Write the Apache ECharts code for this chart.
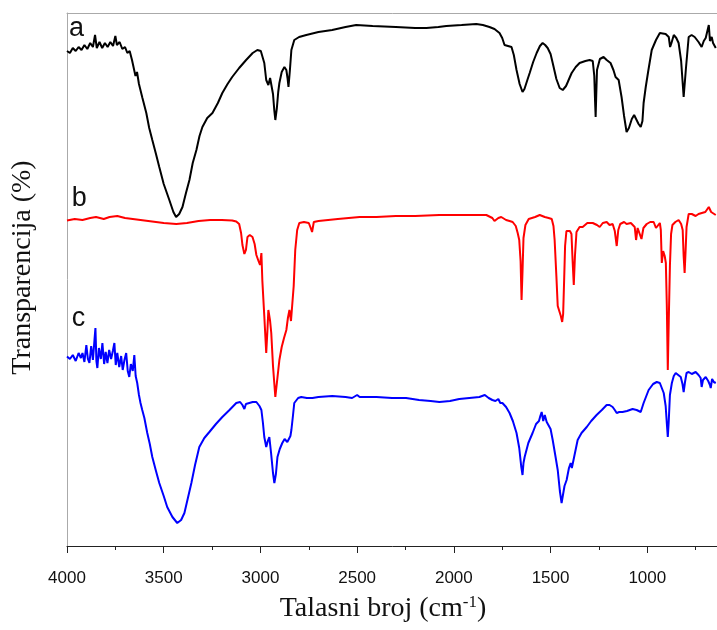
<!DOCTYPE html>
<html>
<head>
<meta charset="utf-8">
<script src="https://cdn.jsdelivr.net/npm/echarts@6/dist/echarts.min.js"></script>
<style>html,body{margin:0;padding:0;background:#fff;}#c{width:717px;height:630px;}</style>
</head>
<body>
<div id="c"></div>
<script>
// Series labels
const seriesNames = ['a', 'b', 'c'];
const seriesColors = ['#000000', '#ff0000', '#0000ff'];

// Spectrum a: [wavenumber (cm-1), transmittance (offset, arb.)]
const specA = [[4000,99.0],[3985,98.6],[3970,99.6],[3955,99.0],[3940,99.8],[3925,99.2],[3910,100.2],[3895,99.4],[3880,100.6],[3866,99.8],[3855,102.2],[3846,99.6],[3832,100.8],[3818,99.6],[3804,100.6],[3790,99.8],[3776,100.8],[3762,100.0],[3750,102.0],[3742,100.2],[3728,100.8],[3714,99.4],[3700,99.8],[3688,98.6],[3676,99.0],[3664,97.2],[3655,97.6],[3646,94.0],[3638,94.8],[3628,92.4],[3610,89.6],[3590,86.6],[3575,83.6],[3559,81.2],[3540,78.4],[3523,75.8],[3500,72.4],[3471,69.2],[3450,66.8],[3436,65.8],[3420,66.4],[3403,67.8],[3385,70.6],[3367,73.2],[3350,76.6],[3331,79.2],[3315,82.0],[3300,83.8],[3275,85.6],[3248,86.6],[3220,88.6],[3197,90.6],[3170,92.4],[3146,93.8],[3110,95.6],[3074,97.2],[3040,98.6],[3016,99.2],[2998,99.0],[2990,98.6],[2980,96.6],[2970,93.2],[2959,92.2],[2950,93.6],[2944,93.8],[2935,90.4],[2928,87.0],[2923,85.2],[2915,87.6],[2908,90.8],[2902,92.6],[2890,94.8],[2876,95.8],[2866,95.2],[2860,93.6],[2855,91.8],[2848,95.0],[2840,99.2],[2825,101.2],[2800,101.8],[2763,102.2],[2700,102.8],[2629,103.2],[2560,103.8],[2505,104.2],[2420,104.0],[2300,103.8],[2200,103.6],[2142,103.6],[2080,103.8],[2039,104.0],[1960,104.2],[1884,104.4],[1850,104.2],[1816,103.8],[1790,103.4],[1764,102.6],[1750,101.6],[1738,100.2],[1720,100.0],[1702,99.8],[1690,98.2],[1676,95.2],[1660,92.4],[1645,90.8],[1635,91.4],[1620,93.2],[1608,94.6],[1590,96.8],[1572,98.6],[1555,100.0],[1541,100.6],[1528,100.2],[1515,99.6],[1500,98.4],[1489,96.6],[1470,93.4],[1453,91.6],[1437,91.2],[1420,92.0],[1411,92.8],[1400,93.8],[1391,94.6],[1370,95.8],[1350,96.6],[1320,97.0],[1298,97.2],[1282,97.0],[1274,94.0],[1270,89.0],[1267,85.8],[1264,90.0],[1260,95.2],[1245,97.4],[1226,97.8],[1210,97.2],[1190,96.6],[1175,95.2],[1164,93.8],[1148,93.2],[1133,89.8],[1120,86.0],[1107,82.8],[1095,83.6],[1080,85.4],[1068,86.2],[1060,85.8],[1045,84.4],[1034,83.8],[1025,85.0],[1019,88.6],[1008,91.8],[995,95.0],[977,99.2],[955,101.2],[935,102.6],[925,102.8],[905,102.4],[889,101.8],[882,99.8],[875,100.6],[863,102.2],[850,101.6],[838,100.6],[825,97.0],[812,89.8],[800,95.6],[786,101.8],[771,102.2],[755,101.8],[735,100.8],[719,99.8],[708,101.0],[698,101.6],[688,102.0],[682,104.2],[676,101.0],[672,100.6],[667,101.8],[660,100.6],[646,99.6]];

// Spectrum b
const specB = [[4000,65.1],[3960,65.4],[3920,65.2],[3880,65.6],[3850,65.8],[3810,65.4],[3780,65.8],[3740,66.0],[3700,65.6],[3660,65.4],[3620,65.2],[3580,65.0],[3540,64.8],[3500,64.6],[3435,64.4],[3380,64.6],[3320,65.0],[3260,65.2],[3200,65.2],[3146,65.1],[3125,64.9],[3110,64.4],[3100,62.6],[3093,60.2],[3083,58.4],[3075,59.2],[3067,61.8],[3055,62.2],[3041,61.8],[3030,60.4],[3021,58.2],[3010,57.0],[3002,56.2],[2995,58.6],[2990,53.0],[2980,46.0],[2970,38.6],[2964,43.0],[2959,47.2],[2950,45.0],[2944,42.6],[2935,36.0],[2928,32.4],[2923,29.8],[2915,32.6],[2902,37.2],[2890,39.8],[2878,41.6],[2866,43.2],[2858,45.6],[2850,47.2],[2842,45.0],[2835,44.6],[2828,52.0],[2820,59.2],[2810,63.2],[2799,64.6],[2775,64.8],[2750,64.6],[2740,63.6],[2733,62.8],[2724,64.8],[2700,65.0],[2600,65.4],[2487,65.8],[2400,65.8],[2300,66.0],[2200,66.0],[2075,66.2],[1950,66.2],[1832,66.2],[1801,65.6],[1790,65.0],[1780,64.6],[1770,65.6],[1755,65.8],[1730,65.2],[1712,65.0],[1696,64.8],[1680,64.0],[1670,62.6],[1662,61.2],[1655,57.0],[1650,49.2],[1645,55.0],[1640,61.6],[1630,64.2],[1613,65.4],[1580,65.8],[1556,66.2],[1530,65.8],[1510,65.6],[1494,65.4],[1485,64.0],[1479,61.2],[1470,54.0],[1463,48.0],[1455,47.0],[1447,46.0],[1440,44.8],[1435,46.4],[1430,53.0],[1425,60.0],[1418,63.0],[1411,63.4],[1400,63.0],[1392,62.4],[1386,57.0],[1380,52.2],[1374,58.0],[1366,62.8],[1350,63.8],[1334,63.8],[1310,64.6],[1282,64.6],[1260,64.2],[1246,63.8],[1230,64.6],[1210,64.8],[1195,64.2],[1179,64.4],[1168,63.0],[1158,60.0],[1150,63.2],[1140,64.4],[1120,64.8],[1107,64.4],[1085,64.6],[1065,63.8],[1058,61.2],[1050,63.6],[1040,63.4],[1030,61.4],[1020,63.6],[1003,64.4],[985,64.8],[967,64.8],[955,63.6],[945,64.0],[935,64.6],[930,63.2],[925,56.6],[918,59.0],[910,58.0],[904,56.6],[899,48.0],[894,35.2],[889,45.0],[883,56.0],[877,62.4],[870,64.2],[855,64.8],[838,65.2],[825,64.4],[817,63.2],[812,58.0],[807,54.6],[802,59.0],[797,63.8],[786,66.4],[770,66.4],[750,66.0],[735,66.4],[718,66.6],[700,66.8],[690,67.2],[682,67.8],[677,68.0],[670,66.8],[660,66.6],[646,66.2]];

// Spectrum c
const specC = [[4000,37.9],[3985,37.4],[3970,38.2],[3955,37.0],[3940,38.6],[3928,37.6],[3920,38.6],[3910,36.8],[3900,40.2],[3892,37.4],[3884,36.6],[3875,40.0],[3866,37.2],[3858,41.2],[3853,43.6],[3848,37.0],[3843,35.6],[3835,39.6],[3825,37.4],[3817,40.6],[3808,36.4],[3800,38.8],[3791,36.6],[3782,39.2],[3772,37.4],[3763,39.0],[3755,40.6],[3748,36.2],[3740,38.6],[3730,35.8],[3720,38.0],[3712,35.2],[3703,37.2],[3694,38.6],[3686,35.0],[3678,33.8],[3670,36.4],[3660,35.0],[3652,38.2],[3645,34.0],[3637,32.6],[3628,30.2],[3620,28.6],[3611,27.2],[3600,25.6],[3585,22.6],[3572,20.4],[3559,17.8],[3540,15.0],[3523,12.6],[3500,10.0],[3482,7.8],[3455,5.8],[3430,4.6],[3410,5.2],[3393,6.6],[3375,9.6],[3357,12.6],[3338,16.2],[3316,19.8],[3290,21.6],[3264,22.8],[3230,24.4],[3197,25.8],[3160,27.2],[3125,28.6],[3105,28.8],[3093,28.2],[3083,27.4],[3075,28.4],[3067,28.8],[3040,28.8],[3021,28.8],[3005,28.0],[2995,27.2],[2987,24.6],[2980,21.8],[2970,19.8],[2962,21.0],[2954,21.8],[2945,18.6],[2935,14.6],[2928,12.6],[2920,14.4],[2912,17.8],[2900,19.4],[2887,20.6],[2875,21.4],[2866,21.8],[2861,20.8],[2852,20.4],[2845,22.0],[2840,23.2],[2832,26.0],[2825,28.6],[2805,29.6],[2789,29.8],[2760,29.6],[2731,29.6],[2700,29.8],[2629,30.0],[2560,29.8],[2526,29.6],[2500,30.2],[2487,29.8],[2400,29.8],[2320,29.6],[2247,29.6],[2180,29.2],[2120,29.0],[2075,28.8],[2020,29.0],[1972,29.4],[1920,29.6],[1868,29.8],[1840,30.2],[1820,29.6],[1801,29.2],[1785,29.0],[1770,29.4],[1760,28.6],[1749,28.6],[1730,27.8],[1712,26.6],[1695,25.0],[1676,22.6],[1662,19.6],[1652,16.0],[1645,14.2],[1640,16.6],[1634,17.8],[1615,20.6],[1593,22.6],[1575,24.4],[1560,25.0],[1553,26.0],[1546,26.8],[1538,25.0],[1530,26.2],[1520,24.8],[1510,25.2],[1500,23.4],[1489,21.2],[1475,18.0],[1463,15.2],[1452,11.0],[1443,8.6],[1436,10.2],[1428,12.0],[1417,13.2],[1405,15.6],[1396,16.6],[1390,15.6],[1386,15.2],[1375,18.4],[1360,21.2],[1340,22.6],[1313,23.8],[1290,25.0],[1262,26.2],[1235,27.2],[1210,28.2],[1195,28.2],[1179,27.8],[1168,27.2],[1158,26.6],[1145,26.8],[1128,26.8],[1105,27.0],[1076,27.4],[1055,27.2],[1045,27.4],[1034,26.8],[1027,27.2],[1019,28.6],[1005,30.0],[993,31.2],[970,32.4],[951,32.8],[935,32.6],[925,32.2],[915,30.6],[905,28.0],[898,24.0],[894,21.8],[889,25.0],[883,30.2],[873,32.6],[863,34.0],[853,34.6],[840,34.2],[827,33.8],[818,32.4],[812,30.8],[805,32.8],[797,34.6],[786,34.8],[770,34.4],[750,34.8],[735,34.2],[724,33.6],[719,31.8],[712,33.2],[698,33.8],[685,33.0],[676,32.2],[672,31.6],[665,33.4],[656,32.8],[646,32.6]];

const spectra = [specA, specB, specC];
// label anchor points (wavenumber, value) for the a/b/c tags
const tagAnchors = [[3990, 100.8], [3975, 66.8], [3975, 42.8]];

const chart = echarts.init(document.getElementById('c'), null, {renderer: 'canvas'});

const xCommon = {
  type: 'value', min: 500, max: 4000, inverse: true, interval: 500,
  splitLine: {show: false}, minorSplitLine: {show: false}
};

const option = {
  backgroundColor: '#ffffff',
  animation: false,
  grid: {left: 67, top: 13, right: -27, bottom: 84, containLabel: false, outerBoundsMode: 'none'},
  xAxis: [
    Object.assign({}, xCommon, {
      position: 'bottom',
      name: 'Talasni broj (cm{sup|-1})',
      nameLocation: 'middle',
      nameGap: 48,
      nameTextStyle: {
        fontFamily: 'Liberation Serif', fontSize: 28, color: '#111',
        padding: [0, 45, 0, 0],
        rich: {sup: {fontFamily: 'Liberation Serif', fontSize: 17, color: '#111', verticalAlign: 'top', padding: [0, 0, 12, 0]}}
      },
      axisLine: {show: true, lineStyle: {color: '#222', width: 1}},
      axisTick: {show: true, inside: false, length: 7, lineStyle: {color: '#222'}},
      minorTick: {show: true, splitNumber: 2, length: 4, lineStyle: {color: '#222'}},
      axisLabel: {show: true, fontFamily: 'Liberation Sans', fontSize: 17, color: '#111', margin: 24,
        formatter: v => (v >= 1000 ? String(v) : '')}
    }),
    Object.assign({}, xCommon, {
      position: 'top',
      axisLine: {show: true, lineStyle: {color: '#aaaaaa', width: 1}},
      axisTick: {show: false}, minorTick: {show: false}, axisLabel: {show: false}
    })
  ],
  yAxis: {
    type: 'value', min: 0, max: 106.6,
    name: 'Transparencija (%)',
    nameLocation: 'middle',
    nameRotate: 90,
    nameGap: 30,
    nameTextStyle: {fontFamily: 'Liberation Serif', fontSize: 28, color: '#111', padding: [0, 0, 0, 24]},
    axisLine: {show: true, lineStyle: {color: '#aaaaaa', width: 1}},
    axisTick: {show: false}, axisLabel: {show: false}, splitLine: {show: false}
  },
  series: spectra.map((d, i) => ({
    name: seriesNames[i],
    type: 'line',
    data: d,
    showSymbol: false,
    symbol: 'none',
    smooth: false,
    lineStyle: {color: seriesColors[i], width: 2},
    clip: true
  }))
};
chart.setOption(option);

// a/b/c tags placed at data coordinates
const graphics = tagAnchors.map((p, i) => {
  const px = chart.convertToPixel({xAxisIndex: 0, yAxisIndex: 0}, p);
  return {
    type: 'text', x: px[0], y: px[1],
    style: {text: seriesNames[i], fontFamily: 'Liberation Sans', fontSize: 27, fill: '#111',
      textAlign: 'left', textVerticalAlign: 'bottom'}
  };
});
chart.setOption({graphic: graphics});
</script>
</body>
</html>
